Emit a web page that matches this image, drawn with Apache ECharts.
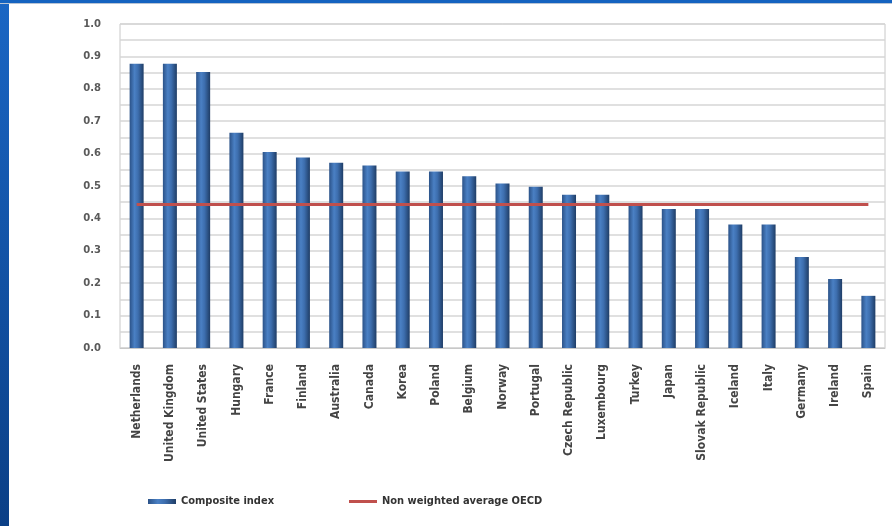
<!DOCTYPE html>
<html><head><meta charset="utf-8">
<script src="https://cdn.jsdelivr.net/npm/echarts@6/dist/echarts.min.js"></script>
<style>
html,body{margin:0;padding:0;background:#fff;}
#wrap{position:relative;width:892px;height:526px;overflow:hidden;background:#fff;}
#lb{position:absolute;left:0;top:0;width:9px;height:526px;background:linear-gradient(#1a66c4,#0b3f86);}
#tb{position:absolute;left:0;top:0;width:892px;height:3px;background:#1463c0;border-bottom:1px solid #b8c4d4;}
#chart{position:absolute;left:0;top:0;width:892px;height:526px;}
</style></head>
<body><div id="wrap"><div id="chart"></div><div id="lb"></div><div id="tb"></div></div>
<script>
const categories = ['Netherlands','United Kingdom','United States','Hungary','France','Finland','Australia','Canada','Korea','Poland','Belgium','Norway','Portugal','Czech Republic','Luxembourg','Turkey','Japan','Slovak Republic','Iceland','Italy','Germany','Ireland','Spain'];
const compositeIndex = [0.877,0.877,0.852,0.664,0.605,0.588,0.572,0.563,0.545,0.545,0.530,0.508,0.498,0.473,0.473,0.441,0.429,0.429,0.381,0.381,0.281,0.213,0.161];
const oecdAverage = [0.443,0.443,0.443,0.443,0.443,0.443,0.443,0.443,0.443,0.443,0.443,0.443,0.443,0.443,0.443,0.443,0.443,0.443,0.443,0.443,0.443,0.443,0.443];
const yTicks = ['0.0','0.1','0.2','0.3','0.4','0.5','0.6','0.7','0.8','0.9','1.0'];

const chart = echarts.init(document.getElementById('chart'), null, {renderer:'canvas'});
const barGrad = new echarts.graphic.LinearGradient(0,0,1,0,[
  {offset:0,color:'#2b5288'},{offset:0.35,color:'#4a80c4'},{offset:0.6,color:'#3d6eae'},{offset:1,color:'#1f3d66'}]);
const lgFont = {fontFamily:'Liberation Sans Narrow, DejaVu Sans Condensed, sans-serif',fontSize:11,fontWeight:'bold',color:'#333'};
chart.setOption({
  animation:false,
  backgroundColor:'transparent',
  grid:{left:120,right:7,top:24,bottom:178,show:true,borderColor:'#c8c8c8',borderWidth:1},
  legend:[
    {data:[{name:'Composite index',icon:'rect'}],left:143,top:491,itemWidth:28,itemHeight:5,textStyle:lgFont},
    {data:[{name:'Non weighted average OECD',icon:'rect'}],left:344,top:491,itemWidth:28,itemHeight:3,textStyle:lgFont}
  ],
  xAxis:{type:'category',data:categories,boundaryGap:true,
    axisLine:{show:true,lineStyle:{color:'#c8c8c8'}},axisTick:{show:false},
    axisLabel:{rotate:90,margin:16,interval:0,fontFamily:'Liberation Sans Narrow, DejaVu Sans Condensed, sans-serif',fontSize:12,fontWeight:'bold',color:'#444'}},
  yAxis:{type:'value',min:0,max:1,interval:0.05,
    axisLine:{show:false},axisTick:{show:false},
    splitLine:{show:true,lineStyle:{color:'#d6d6d6',width:1.5}},
    axisLabel:{margin:19,fontFamily:'DejaVu Sans, sans-serif',fontSize:10,fontWeight:'bold',color:'#5a5a5a',
      formatter:function(v){const i=Math.round(v*20);return i%2===0?yTicks[i/2]:'';}}},
  series:[
    {name:'Composite index',type:'bar',data:compositeIndex,barWidth:14,
     itemStyle:{color:barGrad}},
    {name:'Non weighted average OECD',type:'line',data:oecdAverage,symbol:'none',
     lineStyle:{color:'#c0504d',width:3},itemStyle:{color:'#c0504d'}}
  ]
});
</script></body></html>
